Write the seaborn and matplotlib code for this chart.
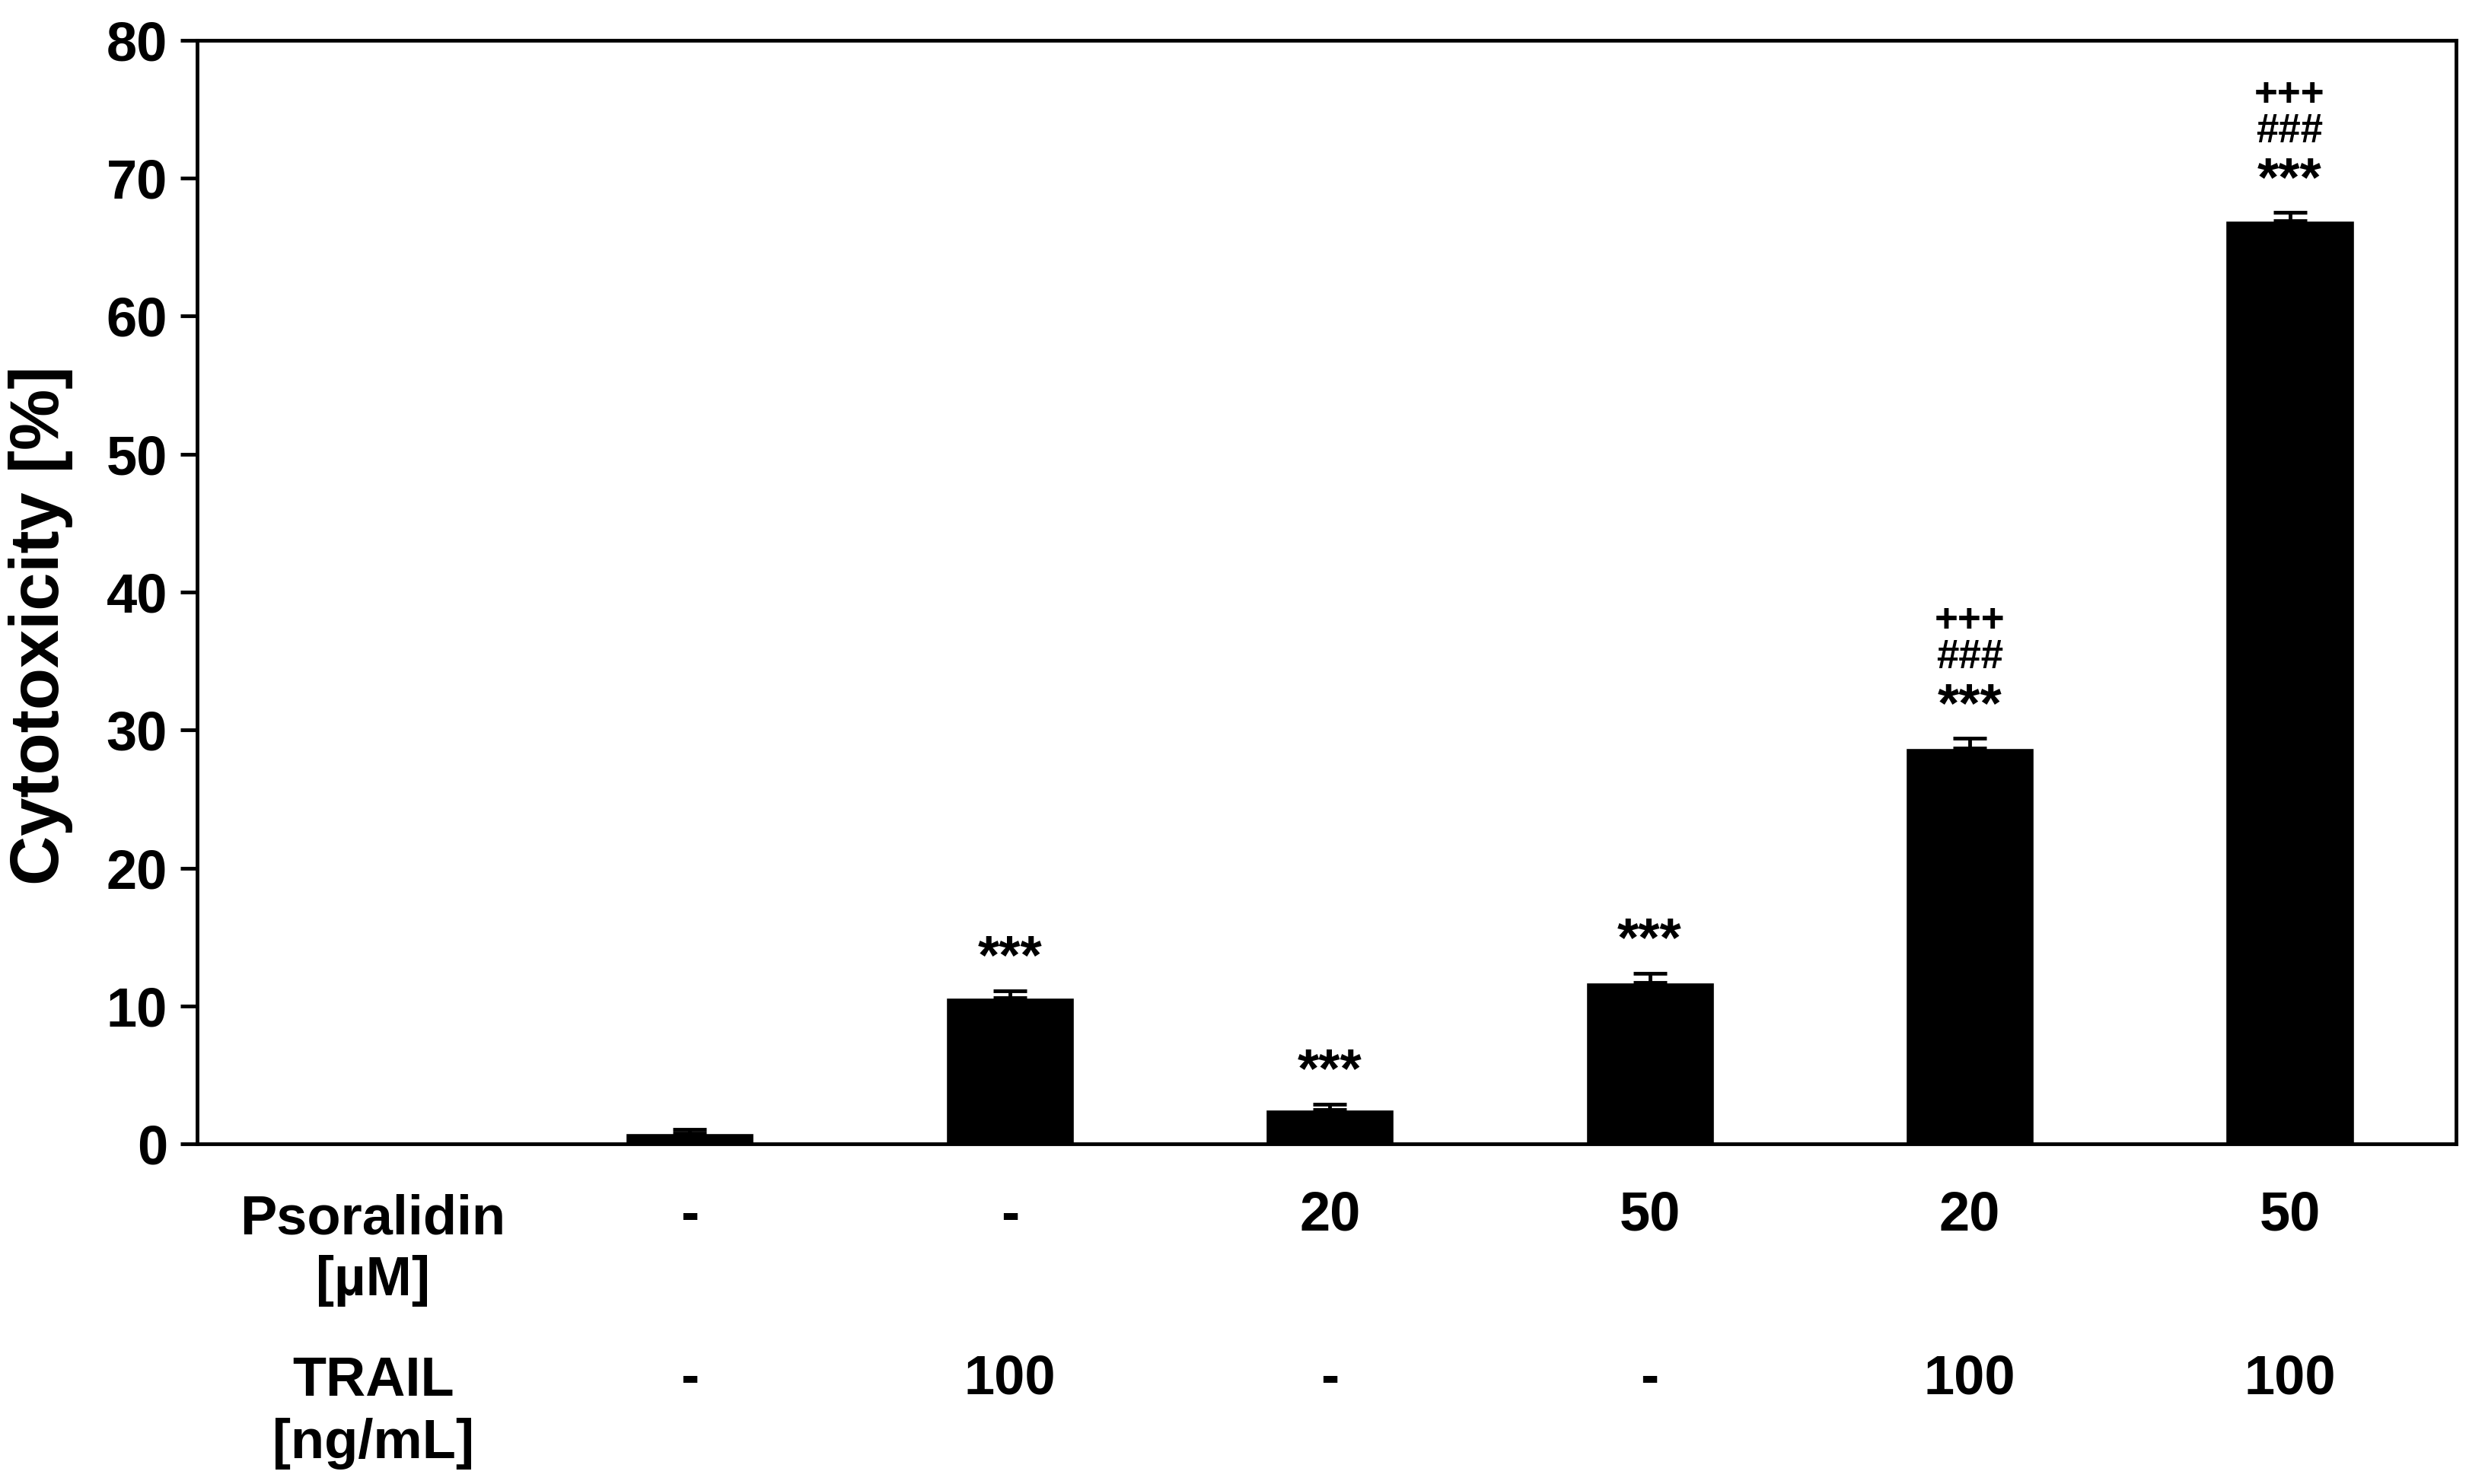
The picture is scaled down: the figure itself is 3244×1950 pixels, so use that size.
import seaborn as sns
import matplotlib.pyplot as plt
import pandas as pd
import numpy as np

# data
grupos = ['g1', 'g2', 'g3', 'g4', 'g5', 'g6']
citotox = [0.8, 10.6, 2.5, 11.7, 28.7, 66.9]
erro = [0.3, 0.5, 0.4, 0.7, 0.7, 0.6]
psoralidin = ['-', '-', '20', '50', '20', '50']
trail = ['-', '100', '-', '-', '100', '100']
sig_ctrl = ['', '***', '***', '***', '***', '***']
sig_trail = ['', '', '', '', '###', '###']
sig_psor = ['', '', '', '', '+++', '+++']
y_ticks = [0, 10, 20, 30, 40, 50, 60, 70, 80]

sns.set_style('ticks')
plt.rcParams['font.family'] = ['Liberation Sans', 'DejaVu Sans']
plt.rcParams['font.weight'] = 'bold'
plt.rcParams['text.color'] = 'black'
plt.rcParams['axes.edgecolor'] = 'black'
plt.rcParams['axes.labelcolor'] = 'black'
plt.rcParams['ytick.color'] = 'black'

df = pd.DataFrame({'grupo': grupos, 'citotox': citotox})

fig = plt.figure(figsize=(32.44, 19.5), dpi=100)
ax = fig.add_axes([0.0798, 0.229, 0.915, 0.744])

sns.barplot(data=df, x='grupo', y='citotox', color='black', width=0.4,
            errorbar=None, saturation=1, ax=ax)
x = np.arange(len(grupos))
ax.errorbar(x, citotox, yerr=[np.zeros(len(erro)), erro], fmt='none',
            ecolor='black', elinewidth=3.5, capsize=16, capthick=3.5)

# significance marks stacked above the error bar caps
for xi, v, e, s1, s2, s3 in zip(x, citotox, erro, sig_ctrl, sig_trail, sig_psor):
    topo = v + e
    if s1:
        ax.text(xi, topo + 1.25, s1, ha='center', va='baseline', fontsize=52,
                fontweight='bold')
    if s2:
        ax.text(xi, topo + 5.1, s2, ha='center', va='baseline', fontsize=38,
                fontweight='bold')
    if s3:
        ax.text(xi, topo + 7.75, s3, ha='center', va='baseline', fontsize=38,
                fontweight='bold')

ax.set_xlim(-1.54, 5.52)
ax.set_ylim(0, 80)
ax.set_yticks(y_ticks)
ax.tick_params(axis='y', labelsize=52, length=16, width=3.5, direction='out', pad=12)
ax.tick_params(axis='x', length=0, labelbottom=False)
for lab in ax.get_yticklabels():
    lab.set_fontweight('bold')
for s in ax.spines.values():
    s.set_linewidth(3.5)
    s.set_visible(True)
ax.set_xlabel('')
ax.set_ylabel('Cytotoxicity [%]', fontsize=65, fontweight='bold')
ax.yaxis.set_label_coords(-0.055, 0.47)

trans = ax.get_xaxis_transform()
ax.text(-0.99, -0.096, 'Psoralidin\n[µM]', transform=trans, ha='center', va='center',
        fontsize=52, fontweight='bold', linespacing=1.25)
ax.text(-0.99, -0.243, 'TRAIL\n[ng/mL]', transform=trans, ha='center', va='center',
        fontsize=52, fontweight='bold', linespacing=1.25)
for xi, p, t in zip(x, psoralidin, trail):
    ax.text(xi, -0.065, p, transform=trans, ha='center', va='center',
            fontsize=52, fontweight='bold')
    ax.text(xi, -0.213, t, transform=trans, ha='center', va='center',
            fontsize=52, fontweight='bold')

fig.savefig('out.png', dpi=100, facecolor='white')
